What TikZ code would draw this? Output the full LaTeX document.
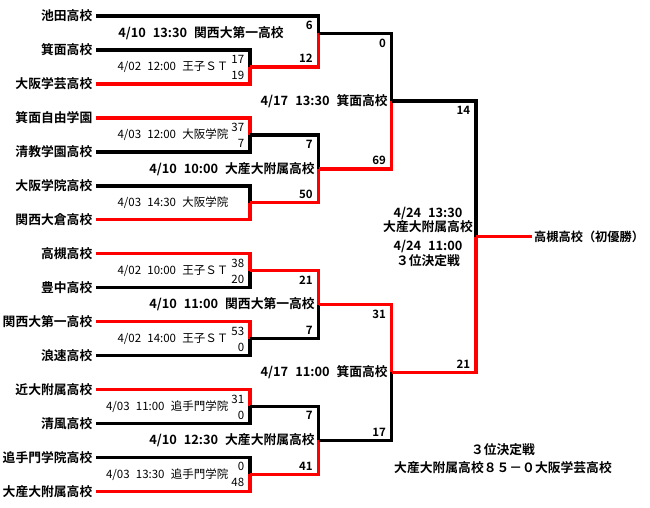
\documentclass[tikz,border=0pt]{standalone}
\usepackage{fontspec}
\setmainfont{Noto Sans CJK JP}[BoldFont={Noto Sans CJK JP Bold},WordSpace=2.4]
\usetikzlibrary{positioning}
\newcommand\teamfnt{\fontsize{12.8}{14.5}\selectfont\bfseries}
\newcommand\roundfnt{\fontsize{12.8}{14.5}\selectfont\bfseries}
\newcommand\thinfnt{\fontsize{11.5}{13}\selectfont}
\newcommand\ptfnt{\fontsize{11.5}{13}\selectfont\bfseries}

\begin{document}
\begin{tikzpicture}[x=1pt,y=-1pt,
   team/.style={anchor=east,inner xsep=3.5pt,inner ysep=0pt,font=\teamfnt},
   lose/.style={draw=black,line width=3.5pt},
   win/.style={draw=red,line width=3.5pt},
   pts/.style={inner sep=0pt,font=\ptfnt},
   ptthin/.style={inner sep=0pt,font=\thinfnt},
   upper/.style={pos=0.5,anchor=north east,xshift=-4pt,yshift=-3.5pt},
   lower/.style={pos=0.5,anchor=south east,xshift=-4pt,yshift=2.5pt},
   r1lbl/.style={inner sep=0pt,font=\thinfnt},
   rdlbl/.style={inner sep=0pt,font=\roundfnt,align=center}]
  \useasboundingbox (0,0) rectangle (650,508);

  % teams
  \foreach \name [count=\i] in {池田高校,箕面高校,大阪学芸高校,箕面自由学園,
      清教学園高校,大阪学院高校,関西大倉高校,高槻高校,豊中高校,関西大第一高校,
      浪速高校,近大附属高校,清風高校,追手門学院高校,大産大附属高校}
    \node[team] (t\i) at (96,{16+33.95*(\i-1)}) {\name};

  % match points
  \coordinate (r1a) at (250,66.9);
  \coordinate (r1b) at (250,134.8);
  \coordinate (r1c) at (250,202.7);
  \coordinate (r1d) at (250,270.6);
  \coordinate (r1e) at (250,338.5);
  \coordinate (r1f) at (250,406.4);
  \coordinate (r1g) at (250,474.3);
  \coordinate (r2a) at (318.5,33.3);
  \coordinate (r2b) at (318.5,168.75);
  \coordinate (r2c) at (318.5,304.55);
  \coordinate (r2d) at (318.5,440.35);
  \coordinate (r3a) at (391.7,101);
  \coordinate (r3b) at (391.7,372.45);
  \coordinate (fin) at (476,236.7);

  % first round
  \draw[lose] (t2.east) -| node[upper,ptthin]{17} (r1a);
  \draw[win]  (t3.east) -| node[lower,ptthin]{19} (r1a);
  \node[r1lbl,left=21.5pt of r1a] {4/02 12:00 王子ＳＴ};
  \draw[win]  (t4.east) -| node[upper,ptthin]{37} (r1b);
  \draw[lose] (t5.east) -| node[lower,ptthin]{7} (r1b);
  \node[r1lbl,left=21.5pt of r1b] {4/03 12:00 大阪学院};
  \draw[lose] (t6.east) -| (r1c);
  \draw[win]  (t7.east) -| (r1c);
  \node[r1lbl,left=21.5pt of r1c] {4/03 14:30 大阪学院};
  \draw[win]  (t8.east) -| node[upper,ptthin]{38} (r1d);
  \draw[lose] (t9.east) -| node[lower,ptthin]{20} (r1d);
  \node[r1lbl,left=21.5pt of r1d] {4/02 10:00 王子ＳＴ};
  \draw[win]  (t10.east) -| node[upper,ptthin]{53} (r1e);
  \draw[lose] (t11.east) -| node[lower,ptthin]{0} (r1e);
  \node[r1lbl,left=21.5pt of r1e] {4/02 14:00 王子ＳＴ};
  \draw[win]  (t12.east) -| node[upper,ptthin]{31} (r1f);
  \draw[lose] (t13.east) -| node[lower,ptthin]{0} (r1f);
  \node[r1lbl,left=21.5pt of r1f] {4/03 11:00 追手門学院};
  \draw[lose] (t14.east) -| node[upper,ptthin]{0} (r1g);
  \draw[win]  (t15.east) -| node[lower,ptthin]{48} (r1g);
  \node[r1lbl,left=21.5pt of r1g] {4/03 13:30 追手門学院};

  % second round
  \draw[lose] (t1.east) -| node[upper,pts]{6} (r2a);
  \draw[win]  (r1a) -| node[lower,pts]{12} (r2a);
  \node[rdlbl,left=34.5pt of r2a] {4/10 13:30 関西大第一高校};
  \draw[lose] (r1b) -| node[upper,pts]{7} (r2b);
  \draw[win]  (r1c) -| node[lower,pts]{50} (r2b);
  \node[rdlbl,left=3.5pt of r2b] {4/10 10:00 大産大附属高校};
  \draw[win]  (r1d) -| node[upper,pts]{21} (r2c);
  \draw[lose] (r1e) -| node[lower,pts]{7} (r2c);
  \node[rdlbl,left=3.5pt of r2c] {4/10 11:00 関西大第一高校};
  \draw[lose] (r1f) -| node[upper,pts]{7} (r2d);
  \draw[win]  (r1g) -| node[lower,pts]{41} (r2d);
  \node[rdlbl,left=3.5pt of r2d] {4/10 12:30 大産大附属高校};

  % semi-finals
  \draw[lose] (r2a) -| node[upper,pts]{0} (r3a);
  \draw[win]  (r2b) -| node[lower,pts]{69} (r3a);
  \node[rdlbl,left=3.7pt of r3a] {4/17 13:30 箕面高校};
  \draw[win]  (r2c) -| node[upper,pts]{31} (r3b);
  \draw[lose] (r2d) -| node[lower,pts]{17} (r3b);
  \node[rdlbl,left=3.7pt of r3b] {4/17 11:00 箕面高校};

  % final
  \draw[lose] (r3a) -| node[upper,pts]{14} (fin);
  \draw[win]  (r3b) -| node[lower,pts]{21} (fin);
  \node[rdlbl] (fl1) at (428,220) {4/24 13:30\\大産大附属高校};
  \node[rdlbl] (fl2) at (428,253.6) {4/24 11:00\\３位決定戦};
  \node[team,anchor=west,inner xsep=2pt,font=\fontsize{12.2}{14}\selectfont\bfseries]
       (champ) at (532,236.7) {高槻高校（初優勝）};
  \draw[win] (fin) -- (champ.west);

  % third place
  \node[rdlbl] (third) at (503,458.5) {３位決定戦\\[3pt]大産大附属高校８５－０大阪学芸高校};
\end{tikzpicture}
\end{document}
